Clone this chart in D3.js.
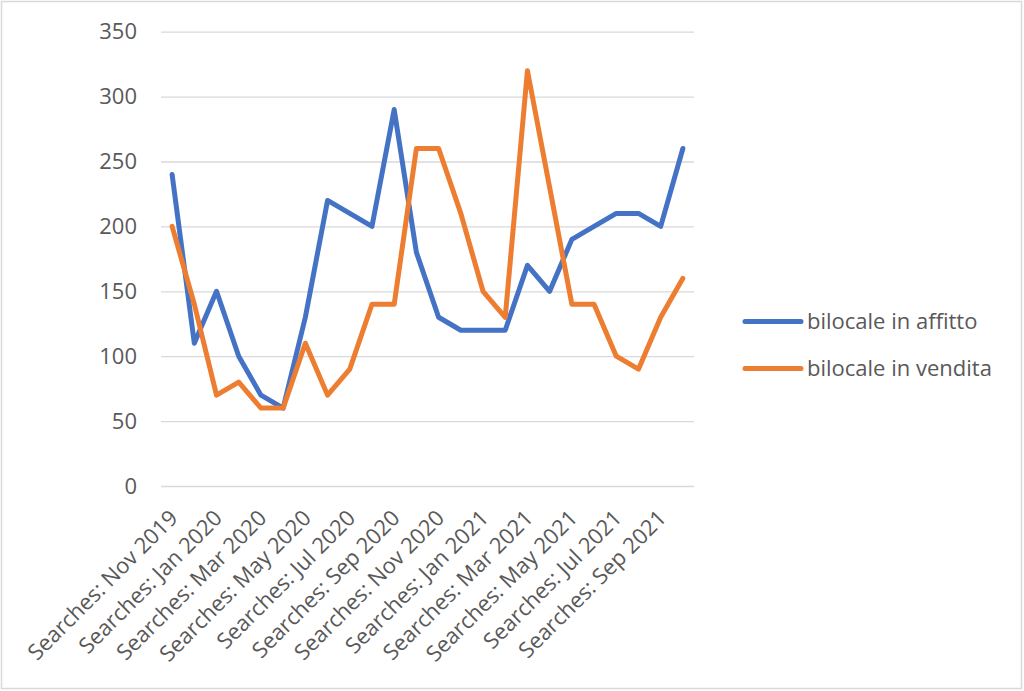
<!DOCTYPE html>
<html><head><meta charset="utf-8">
<script src="https://cdn.jsdelivr.net/npm/d3@7"></script>
<style>html,body{margin:0;padding:0;background:#fff;}</style>
</head><body>
<svg id="chart" width="1024" height="691"></svg>
<script>
const categories = ["Searches: Nov 2019","Searches: Dec 2019","Searches: Jan 2020","Searches: Feb 2020","Searches: Mar 2020","Searches: Apr 2020","Searches: May 2020","Searches: Jun 2020","Searches: Jul 2020","Searches: Aug 2020","Searches: Sep 2020","Searches: Oct 2020","Searches: Nov 2020","Searches: Dec 2020","Searches: Jan 2021","Searches: Feb 2021","Searches: Mar 2021","Searches: Apr 2021","Searches: May 2021","Searches: Jun 2021","Searches: Jul 2021","Searches: Aug 2021","Searches: Sep 2021","Searches: Oct 2021"];
const affitto = [240,110,150,100,70,60,130,220,210,200,290,180,130,120,120,120,170,150,190,200,210,210,200,260];
const vendita = [200,140,70,80,60,60,110,70,90,140,140,260,260,210,150,130,320,230,140,140,100,90,130,160];
const seriesNames = ["bilocale in affitto","bilocale in vendita"];
const seriesColors = ["#4472C4","#ED7D31"];
const yTicks = [0,50,100,150,200,250,300,350];

const svg = d3.select("#chart");
svg.append("rect").attr("x",1.5).attr("y",1.5).attr("width",1020).attr("height",687)
  .attr("fill","#fff").attr("stroke","#d9d9d9").attr("stroke-width",1.5);

const mLeft = 161, mRight = 694, mTop = 31.7, mBottom = 486;
const x = d3.scalePoint().domain(categories).range([mLeft, mRight]).padding(0.5);
const y = d3.scaleLinear().domain([0,350]).range([mBottom, mTop]);
const font = "'Open Sans', sans-serif";
const fs = "22px";

// gridlines
const yAxis = d3.axisLeft(y).tickValues(yTicks).tickSize(-(mRight-mLeft)).tickPadding(24);
const gy = svg.append("g").attr("transform",`translate(${mLeft},0)`).call(yAxis);
gy.select(".domain").remove();
gy.selectAll(".tick line").attr("stroke","#d9d9d9").attr("stroke-width",1.3);
gy.selectAll(".tick text").attr("fill","#595959").style("font-family",font).style("font-size",fs);

// x axis labels (every other)
const xAxis = d3.axisBottom(x).tickSize(0).tickValues(categories.filter((d,i)=>i%2===0));
const gx = svg.append("g").attr("transform",`translate(0,${mBottom})`).call(xAxis);
gx.select(".domain").remove();
gx.selectAll(".tick text")
  .attr("fill","#595959").style("font-family",font).style("font-size",fs)
  .attr("text-anchor","end").attr("dy","0.35em").attr("y",0)
  .attr("transform","translate(1,28) rotate(-45)");

// lines
const line = d3.line().x((d,i)=>x(categories[i])).y(d=>y(d));
[affitto, vendita].forEach((s,k)=>{
  svg.append("path").datum(s).attr("d",line).attr("fill","none")
    .attr("stroke",seriesColors[k]).attr("stroke-width",5)
    .attr("stroke-linejoin","round").attr("stroke-linecap","round");
});

// legend
const lg = svg.append("g");
seriesNames.forEach((n,k)=>{
  const yy = 321.5 + k*47;
  lg.append("line").attr("x1",745).attr("x2",801).attr("y1",yy).attr("y2",yy)
    .attr("stroke",seriesColors[k]).attr("stroke-width",5).attr("stroke-linecap","round");
  lg.append("text").attr("x",807).attr("y",yy).attr("dy","0.35em")
    .attr("fill","#595959").style("font-family",font).style("font-size",fs).text(n);
});
</script>
</body></html>
